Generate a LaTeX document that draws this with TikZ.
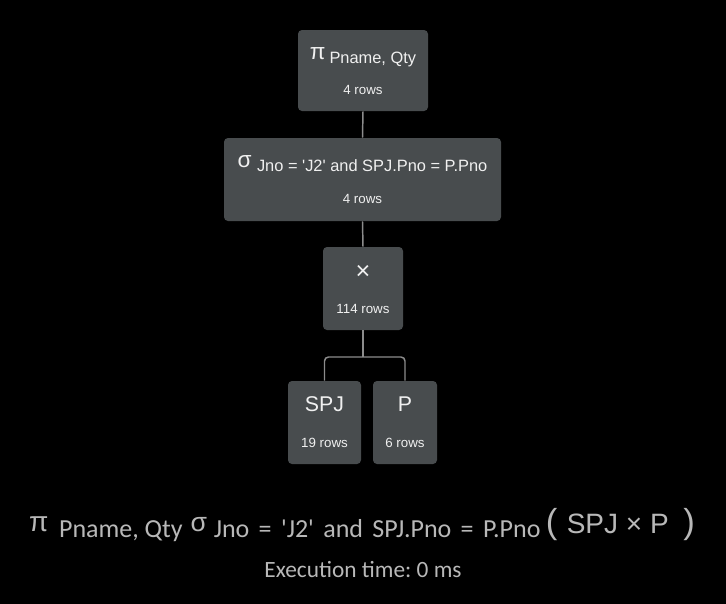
\documentclass[tikz,border=0pt]{standalone}
\usepackage{fontspec}
\setmainfont{Liberation Sans}
\newfontfamily\calfont{Carlito}
\frenchspacing

\definecolor{nodefill}{RGB}{72,76,78}
\definecolor{nodetext}{RGB}{240,240,240}
\definecolor{linkgray}{RGB}{140,140,140}
\definecolor{exprgray}{RGB}{184,184,184}

\newcommand{\opsym}[3]{\raisebox{#3}{\fontsize{#2}{#2}\selectfont #1}}

\begin{document}
\begin{tikzpicture}[x=0.75pt, y=-0.75pt,
        opbox/.style={
            rectangle,
            rounded corners=3pt,
            fill=nodefill,
            minimum height=62.25pt,
            inner sep=0pt
        },
        optitle/.style={
            anchor=base,
            inner sep=0pt,
            text=nodetext,
            font=\fontsize{12.3}{14}\selectfont
        },
        relname/.style={
            anchor=base,
            inner sep=0pt,
            text=nodetext,
            font=\fontsize{16}{18}\selectfont
        },
        rowcount/.style={
            anchor=base,
            inner sep=0pt,
            text=nodetext,
            font=\fontsize{10}{12}\selectfont
        },
        link/.style={draw=linkgray, line width=1.1pt}
    ]
        \fill[black] (0,0) rectangle (726,604);

        % operator tree
        \node[opbox, minimum width=97.5pt, minimum height=60.75pt] (proj) at (363,70.5) {};
        \node[optitle] (projt) at ([yshift=-25pt]proj.north)
            {\opsym{π}{17}{2.5pt}\hspace{3pt}Pname, Qty};
        \node[rowcount] (projr) at ([yshift=12.5pt]proj.south) {4 rows};

        \node[opbox, minimum width=207.75pt] (sel) at (362.5,179.5) {};
        \node[optitle] (selt) at ([yshift=-25.5pt]sel.north)
            {\opsym{σ}{17}{3pt}\hspace{4pt}Jno = \textquotesingle J2\textquotesingle{} and SPJ.Pno = P.Pno};
        \node[rowcount] (selr) at ([yshift=13pt]sel.south) {4 rows};

        \node[opbox, minimum width=60pt] (cross) at (363,288.5) {};
        \node[relname, font=\fontsize{19}{20}\selectfont] (crosst) at ([yshift=-24.75pt]cross.north) {×};
        \node[rowcount] (crossr) at ([yshift=12.5pt]cross.south) {114 rows};

        \node[opbox, minimum width=54.75pt] (spj) at (324.5,422.5) {};
        \node[relname] (spjt) at ([yshift=-23.25pt]spj.north) {SPJ};
        \node[rowcount] (spjr) at ([yshift=12.5pt]spj.south) {19 rows};

        \node[opbox, minimum width=48pt] (prel) at (405,422.5) {};
        \node[relname] (prelt) at ([yshift=-23.25pt]prel.north) {P};
        \node[rowcount] (prelr) at ([yshift=12.5pt]prel.south) {6 rows};

        \coordinate (split) at (363,357);
        \draw[link] (proj.south) -- (sel.north);
        \draw[link] (sel.south) -- (cross.north);
        \draw[link] (cross.south) -- (split);
        \draw[link, rounded corners=3pt] (spj.north) |- (split) -| (prel.north);

        % expression and timing
        \node[anchor=base, inner sep=0pt, text=exprgray] (expr) at (362,537)
            {\opsym{π}{21}{4pt}\hspace{8pt}%
             {\calfont\fontsize{19.5}{22}\selectfont Pname, Qty}\hspace{6pt}%
             \opsym{σ}{20}{4pt}\hspace{5pt}%
             {\calfont\fontsize{19.5}{22}\selectfont\spaceskip=7pt
              Jno = \textquotesingle J2\textquotesingle{} and SPJ.Pno = P.Pno}\hspace{4pt}%
             \raisebox{3pt}{\fontsize{21}{22}\selectfont
              {\fontsize{26}{26}\selectfont (}\hspace{7pt}SPJ × P\hspace{11pt}{\fontsize{26}{26}\selectfont )}}};
        \node[anchor=base, inner sep=0pt, text=exprgray, font=\calfont\fontsize{17.5}{20}\selectfont]
            (exectime) at (363,577) {Execution time: 0 ms};
    \end{tikzpicture}
\end{document}
